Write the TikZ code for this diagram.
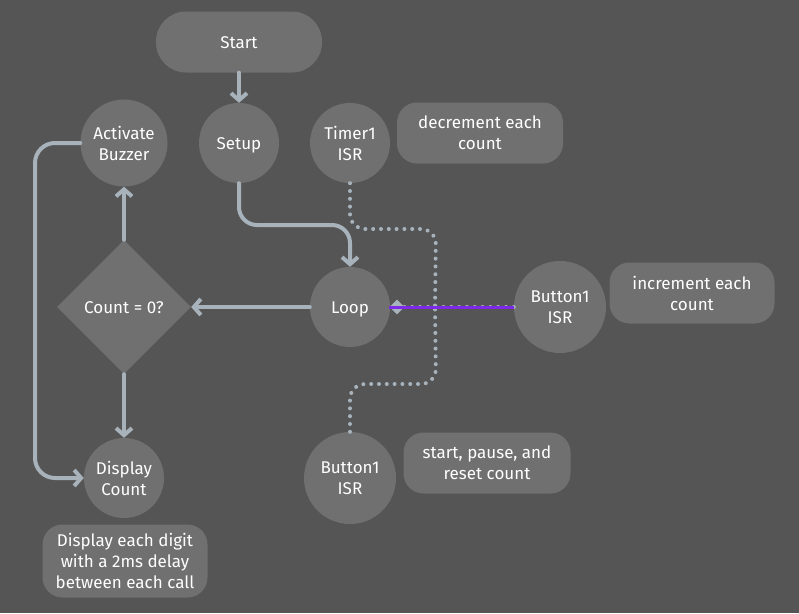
\documentclass[tikz,border=0pt]{standalone}
\usepackage{fontspec}
\setmainfont{Fira Sans}
\usetikzlibrary{arrows.meta,shapes.geometric}
\definecolor{bg}{RGB}{85,85,85}
\definecolor{nodefill}{RGB}{112,112,112}
\definecolor{conn}{RGB}{167,178,187}
\definecolor{sel}{RGB}{125,42,232}
\begin{document}
\begin{tikzpicture}[x=1pt,y=-1pt,
  lbl/.style={text=white, align=center, font=\fontsize{17}{21}\selectfont},
  one/.style={text height=12pt, text depth=0pt},
  circ/.style={lbl, circle, fill=nodefill, minimum size=80pt, inner sep=0pt},
  note/.style={lbl, rectangle, rounded corners=20pt, fill=nodefill, minimum width=166pt, minimum height=61pt, inner sep=0pt},
  pill/.style={lbl, rectangle, rounded corners=30pt, fill=nodefill, minimum width=166pt, minimum height=61pt, inner sep=0pt},
  cond/.style={lbl, diamond, fill=nodefill, minimum width=134pt, minimum height=134pt, inner sep=0pt},
  flow/.style={draw=conn, line width=4pt, line cap=round, line join=round, -{Straight Barb[length=7pt,width=16pt]}},
  dots/.style={draw=conn, line width=4pt, line cap=round, dash pattern=on 0.01pt off 7.8pt},
  selline/.style={draw=sel, line width=3pt},
  tipmark/.style={diamond, fill=conn, minimum width=15pt, minimum height=15pt, inner sep=0pt}
]
\fill[bg] (0,0) rectangle (799,613);
\useasboundingbox (0,0) rectangle (799,613);

\node[pill, one] (start) at (239,42) {Start};
\node[circ, one] (setup) at (239,143) {Setup};
\node[circ, minimum size=87pt] (buzz) at (124,143) {Activate\\Buzzer};
\node[circ] (timer) at (350,143) {Timer1\\ISR};
\node[note] (dec) at (480,133) {decrement each\\count};
\node[circ, one] (loop) at (350,307) {Loop};
\node[cond, one] (check) at (124,307) {Count = 0?};
\node[circ] (disp) at (124,478) {Display\\Count};
\node[note, minimum width=165pt, minimum height=73pt] (dig) at (125,561) {Display each digit\\with a 2ms delay\\between each call};
\node[circ, minimum size=92pt] (bone) at (560,307) {Button1\\ISR};
\node[note, minimum width=165pt] (inc) at (692,293) {increment each\\count};
\node[circ, minimum size=92pt] (btwo) at (350,478) {Button1\\ISR};
\node[note, minimum width=167pt] (spr) at (487,463) {start, pause, and\\reset count};

\draw[flow] (start) -- (setup);
\draw[flow, rounded corners=18pt] (setup.south) -- (239,225) -- (350,225) -- (loop.north);
\draw[flow] (loop) -- (check);
\draw[flow] (check) -- (buzz);
\draw[flow] (check) -- (disp);
\draw[flow, rounded corners=20pt] (buzz.west) -- (35,143) -- (35,478) -- (disp.west);

\coordinate (j) at (435,307);
\draw[dots, rounded corners=15pt] (timer.south) -- (350,229) -- (436,229) -- (j);
\draw[dots, rounded corners=15pt] (btwo.north) -- (350,384) -- (436,384) -- (j);

\draw[dots] (bone.west) -- (loop.east);
\node[tipmark] (tip) at (397,307) {};
\draw[selline] (tip.west) -- (bone.west);
\end{tikzpicture}
\end{document}
